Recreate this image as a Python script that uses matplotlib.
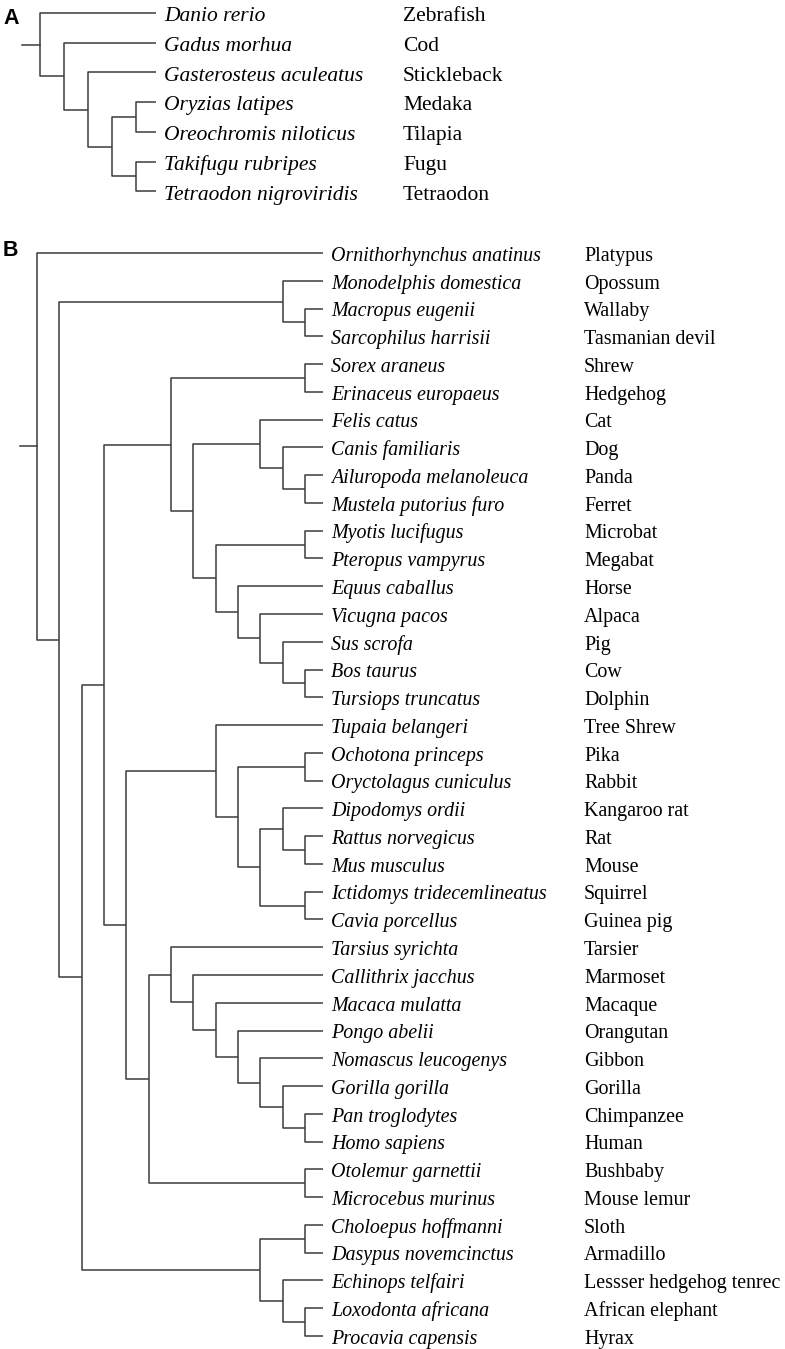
import matplotlib.pyplot as plt

# panel A: teleost fish
fish_species = ["Danio rerio", "Gadus morhua", "Gasterosteus aculeatus",
                "Oryzias latipes", "Oreochromis niloticus",
                "Takifugu rubripes", "Tetraodon nigroviridis"]
fish_common = ["Zebrafish", "Cod", "Stickleback", "Medaka", "Tilapia",
               "Fugu", "Tetraodon"]
fish_tree = (0, (1, (2, ((3, 4), (5, 6)))))

# panel B: mammals
mammal_species = [
    "Ornithorhynchus anatinus", "Monodelphis domestica", "Macropus eugenii",
    "Sarcophilus harrisii", "Sorex araneus", "Erinaceus europaeus",
    "Felis catus", "Canis familiaris", "Ailuropoda melanoleuca",
    "Mustela putorius furo", "Myotis lucifugus", "Pteropus vampyrus",
    "Equus caballus", "Vicugna pacos", "Sus scrofa", "Bos taurus",
    "Tursiops truncatus", "Tupaia belangeri", "Ochotona princeps",
    "Oryctolagus cuniculus", "Dipodomys ordii", "Rattus norvegicus",
    "Mus musculus", "Ictidomys tridecemlineatus", "Cavia porcellus",
    "Tarsius syrichta", "Callithrix jacchus", "Macaca mulatta",
    "Pongo abelii", "Nomascus leucogenys", "Gorilla gorilla",
    "Pan troglodytes", "Homo sapiens", "Otolemur garnettii",
    "Microcebus murinus", "Choloepus hoffmanni", "Dasypus novemcinctus",
    "Echinops telfairi", "Loxodonta africana", "Procavia capensis"]
mammal_common = [
    "Platypus", "Opossum", "Wallaby", "Tasmanian devil", "Shrew", "Hedgehog",
    "Cat", "Dog", "Panda", "Ferret", "Microbat", "Megabat", "Horse", "Alpaca",
    "Pig", "Cow", "Dolphin", "Tree Shrew", "Pika", "Rabbit", "Kangaroo rat",
    "Rat", "Mouse", "Squirrel", "Guinea pig", "Tarsier", "Marmoset",
    "Macaque", "Orangutan", "Gibbon", "Gorilla", "Chimpanzee", "Human",
    "Bushbaby", "Mouse lemur", "Sloth", "Armadillo",
    "Lessser hedgehog tenrec", "African elephant", "Hyrax"]
laurasiatheria = ((4, 5), ((6, (7, (8, 9))),
                           ((10, 11), (12, (13, (14, (15, 16)))))))
glires = (17, ((18, 19), ((20, (21, 22)), (23, 24))))
primates = ((25, (26, (27, (28, (29, (30, (31, 32))))))), (33, 34))
atlantogenata = ((35, 36), (37, (38, 39)))
mammal_tree = (0, ((1, (2, 3)),
                   ((laurasiatheria, (glires, primates)), atlantogenata)))

W, H, DPI = 785, 1349, 100
LINE = "#3c3c3c"
SERIF = "Liberation Serif"


def height(node):
    if isinstance(node, int):
        return 0
    return 1 + max(height(c) for c in node)


def draw_tree(ax, tree, species, common, name_x, size):
    top = height(tree)
    tip_x = top - 1 + 0.82

    def walk(node):
        if isinstance(node, int):
            return tip_x, node
        x = top - height(node)
        kids = [walk(c) for c in node]
        y = (kids[0][1] + kids[-1][1]) / 2
        for cx, cy in kids:
            ax.plot([x, x, cx], [y, cy, cy], color=LINE, lw=1.1,
                    solid_joinstyle="round", solid_capstyle="butt")
        return x, y

    _, root_y = walk(tree)
    ax.plot([-0.75, 0], [root_y, root_y], color=LINE, lw=1.1)
    for i, (sp, cn) in enumerate(zip(species, common)):
        ax.text(tip_x + 0.36, i + 0.28, sp, style="italic", family=SERIF,
                fontsize=size, va="baseline", ha="left")
        ax.text(name_x, i + 0.28, cn, family=SERIF, fontsize=size,
                va="baseline", ha="left")


def make_axes(fig, top_px, bot_px, x0, step, y0, dy):
    ax = fig.add_axes([0, 1 - bot_px / H, 1, (bot_px - top_px) / H])
    ax.set_xlim(-x0 / step, (W - x0) / step)
    ax.set_ylim((bot_px - y0) / dy, (top_px - y0) / dy)
    ax.axis("off")
    return ax


fig = plt.figure(figsize=(W / DPI, H / DPI), dpi=DPI)

axA = make_axes(fig, 0, 212, 40, 24.0, 13, 29.7)
draw_tree(axA, fish_tree, fish_species, fish_common, (403 - 40) / 24.0, 15.5)

axB = make_axes(fig, 215, H, 37, 22.33, 253, 27.77)
draw_tree(axB, mammal_tree, mammal_species, mammal_common,
          (584 - 37) / 22.33, 14.4)

fig.text(3 / W, 1 - 19 / H, "A", fontsize=15.5, fontweight="bold",
         family="Liberation Sans", va="center", ha="left")
fig.text(3 / W, 1 - 250 / H, "B", fontsize=15.5, fontweight="bold",
         family="Liberation Sans", va="center", ha="left")

fig.savefig("out.png", dpi=DPI, facecolor="white")
